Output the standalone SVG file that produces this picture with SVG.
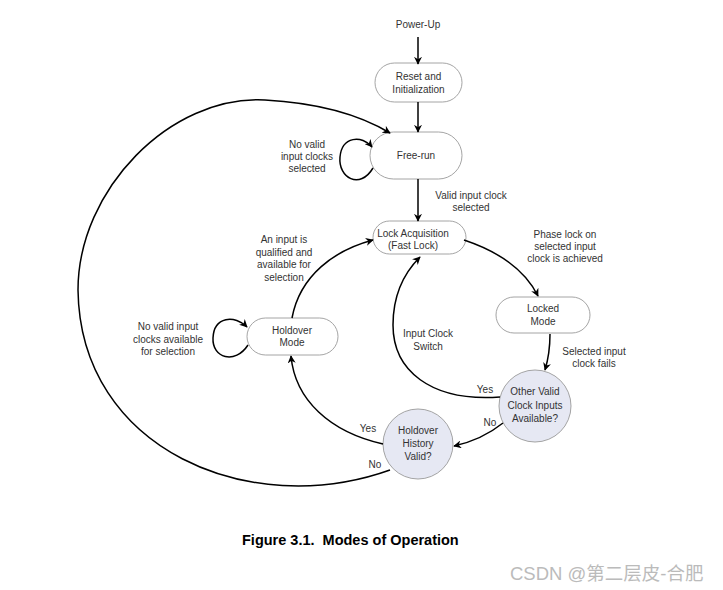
<svg xmlns="http://www.w3.org/2000/svg" width="723" height="590" viewBox="0 0 723 590">
<defs>
<marker id="ah" viewBox="0 0 10 10" refX="9" refY="5" markerWidth="8" markerHeight="8" markerUnits="userSpaceOnUse" orient="auto">
<path d="M0,0 L10,5 L0,10 L3,5 Z" fill="#000"/>
</marker>
<style>
.n{fill:#fff;stroke:#9a9a9a;stroke-width:0.9}
.d{fill:#e6e8f3;stroke:#9a9a9a;stroke-width:0.9}
text{font-family:"Liberation Sans",Arial,sans-serif;font-size:10px;fill:#333;text-anchor:middle}
.c{fill:none;stroke:#000;stroke-width:1.5;marker-end:url(#ah)}
</style>
</defs>
<rect width="723" height="590" fill="#fff"/>
<text x="418" y="28">Power-Up</text>
<g id="reset"><rect class="n" x="375" y="63" width="87" height="39" rx="19.5"/><text x="418.5" y="80">Reset and</text><text x="418.5" y="93">Initialization</text></g>
<g id="freerun"><rect class="n" x="370" y="132" width="92" height="47" rx="23.5"/><text x="416" y="159">Free-run</text></g>
<g id="lockacq"><rect class="n" x="373" y="221" width="93" height="33" rx="16.5"/><text x="413" y="237">Lock Acquisition</text><text x="413" y="249">(Fast Lock)</text></g>
<g id="locked"><rect class="n" x="496" y="297" width="94" height="36" rx="18"/><text x="543" y="312">Locked</text><text x="543" y="325">Mode</text></g>
<g id="holdover"><rect class="n" x="247" y="318" width="91" height="37" rx="18.5"/><text x="292" y="334">Holdover</text><text x="292" y="346">Mode</text></g>
<g id="othervalid"><circle class="d" cx="535" cy="406" r="36"/><text x="535" y="395">Other Valid</text><text x="535" y="409">Clock Inputs</text><text x="535" y="422">Available?</text></g>
<g id="history"><circle class="d" cx="418" cy="444" r="35"/><text x="418" y="434">Holdover</text><text x="418" y="447">History</text><text x="418" y="460">Valid?</text></g>
<g id="connectors">
<path class="c" d="M418,37 L418,64"/>
<path class="c" d="M418,102 L418,132"/>
<path class="c" d="M418,179 L418,221"/>
<path class="c" d="M464,240 C500,252 525,270 538,296"/>
<path class="c" d="M550,334 C550,350 548,360 545,370"/>
<path class="c" d="M500,397 C430,402 393,370 393,325 C393,295 405,272 420,257"/>
<path class="c" d="M503,423 C488,435 472,442 454,446"/>
<path class="c" d="M383,444 C330,432 295,400 291,356"/>
<path class="c" d="M292,318 C300,275 335,250 373,240"/>
<path class="c" d="M373,168 C360,190 338,178 340,157 C342,136 362,135 372,147"/>
<path class="c" d="M248,345 C235,365 212,358 213,338 C214,316 235,315 247,327"/>
<path class="c" d="M390,470 C250,520 80,450 78,290 C78,190 170,95 265,100 C320,103 360,115 390,133"/>
</g>
<g id="labels">
<text x="471" y="199">Valid input clock</text><text x="471" y="211">selected</text>
<text x="307" y="148">No valid</text><text x="307" y="160">input clocks</text><text x="307" y="172">selected</text>
<text x="565" y="238">Phase lock on</text><text x="565" y="250">selected input</text><text x="565" y="262">clock is achieved</text>
<text x="284" y="243">An input is</text><text x="284" y="256">qualified and</text><text x="284" y="268">available for</text><text x="284" y="281">selection</text>
<text x="428" y="337">Input Clock</text><text x="428" y="350">Switch</text>
<text x="594" y="355">Selected input</text><text x="594" y="367">clock fails</text>
<text x="168" y="330">No valid input</text><text x="168" y="343">clocks available</text><text x="168" y="355">for selection</text>
<text x="485" y="393">Yes</text>
<text x="490" y="426">No</text>
<text x="368" y="432">Yes</text>
<text x="375" y="468">No</text>
</g>
<text x="242" y="545" xml:space="preserve" style="font-size:14.5px;font-weight:bold;fill:#000;text-anchor:start">Figure 3.1.  Modes of Operation</text>
<text x="510" y="580" style="font-family:'Liberation Sans','Noto Sans CJK SC',sans-serif;font-size:18.5px;fill:#bbb;text-anchor:start">CSDN @第二层皮-合肥</text>
</svg>
